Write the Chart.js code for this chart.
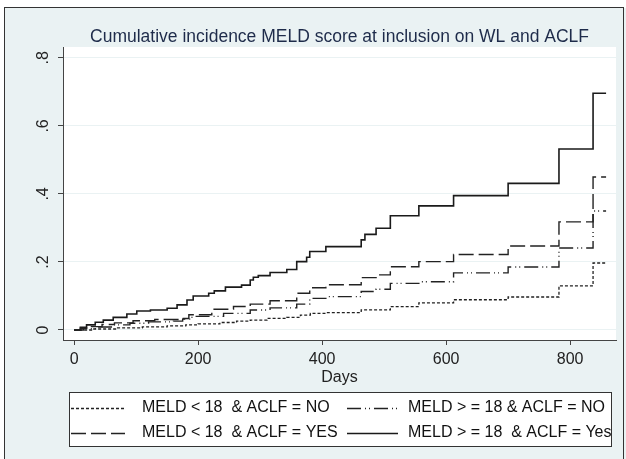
<!DOCTYPE html>
<html>
<head>
<meta charset="utf-8">
<script src="https://cdn.jsdelivr.net/npm/chart.js@4.4.1/dist/chart.umd.min.js"></script>
<style>
  html, body { margin: 0; padding: 0; background: #fff; }
  #wrap { width: 626px; height: 459px; }
</style>
</head>
<body>
<div id="wrap"><canvas id="chart" width="626" height="459"></canvas></div>
<script>
// values (step times in days, cumulative incidence after each step)
const lt18NoDays = [0, 30, 70, 110, 150, 180, 200, 235, 262, 284, 311, 343, 365, 381, 407, 463, 510, 556, 612, 700, 782, 837, 858];
const lt18NoVals = [0, .003, .006, .009, .012, .015, .018, .022, .026, .029, .034, .037, .044, .049, .051, .059, .069, .080, .089, .097, .130, .197, .197];

const lt18YesDays = [0, 10, 25, 45, 65, 95, 130, 170, 185, 222, 257, 284, 316, 359, 380, 406, 463, 487, 510, 556, 612, 700, 782, 837, 858];
const lt18YesVals = [0, .005, .010, .016, .021, .027, .031, .034, .045, .061, .069, .076, .086, .108, .124, .133, .154, .162, .186, .201, .222, .247, .318, .450, .450];

const ge18NoDays = [0, 15, 35, 60, 90, 120, 160, 175, 190, 241, 284, 316, 359, 380, 406, 463, 487, 510, 556, 612, 700, 782, 837, 858];
const ge18NoVals = [0, .004, .009, .015, .020, .024, .026, .032, .040, .049, .059, .065, .076, .093, .098, .113, .120, .137, .142, .168, .185, .241, .350, .350];

const ge18YesDays = [0, 10, 20, 34, 47, 63, 85, 101, 123, 150, 166, 182, 192, 217, 226, 244, 270, 284, 289, 297, 316, 343, 359, 375, 380, 406, 463, 469, 487, 510, 556, 612, 700, 782, 837, 858];
const ge18YesVals = [0, .008, .015, .023, .029, .037, .047, .056, .059, .064, .074, .088, .100, .108, .115, .126, .132, .147, .155, .160, .169, .178, .201, .214, .231, .245, .265, .281, .299, .336, .365, .395, .431, .532, .696, .696];

const seriesLabels = [
  'MELD < 18  & ACLF = NO',
  'MELD < 18  & ACLF = YES',
  'MELD > = 18 & ACLF = NO',
  'MELD > = 18  & ACLF = Yes'
];
const xTicks = [0, 200, 400, 600, 800];
const yTicks = [0, .2, .4, .6, .8];
const yTickLabels = ['0', '.2', '.4', '.6', '.8'];
const chartTitle = 'Cumulative incidence MELD score at inclusion on WL and ACLF';
const xTitle = 'Days';

const FONT = '"Liberation Sans", Arial, Helvetica, sans-serif';
const BG = '#eaf2f3';

const toPoints = (days, vals) => days.map((d, i) => ({ x: d, y: vals[i] }));

const lineStyles = [
  { dash: [3, 2], width: 1.3, color: '#222' },
  { dash: [15, 5], width: 1.4, color: '#222' },
  { dash: [14, 4, 1, 3, 1, 4], width: 1.4, color: '#222' },
  { dash: [], width: 1.6, color: '#1a1a1a' }
];

const seriesData = [
  toPoints(lt18NoDays, lt18NoVals),
  toPoints(lt18YesDays, lt18YesVals),
  toPoints(ge18NoDays, ge18NoVals),
  toPoints(ge18YesDays, ge18YesVals)
];

// legend placement: [dataset index, column, row]
const legendOrder = [[0, 0, 0], [2, 1, 0], [1, 0, 1], [3, 1, 1]];

// Stata-like frame, plot region, title, rotated y labels and boxed legend
const stataLook = {
  id: 'stataLook',
  beforeDraw(chart) {
    const { ctx, chartArea: a } = chart;
    ctx.save();
    ctx.fillStyle = '#fff';
    ctx.fillRect(0, 0, chart.width, chart.height);
    ctx.fillStyle = BG;
    ctx.fillRect(5, 8, chart.width - 5, chart.height - 8);
    ctx.strokeStyle = '#333';
    ctx.lineWidth = 1;
    ctx.strokeRect(4.5, 7.5, chart.width - 7, chart.height + 10);
    ctx.fillStyle = '#fff';
    ctx.fillRect(a.left, a.top, a.right - a.left, a.bottom - a.top);
    ctx.restore();
  },
  afterDraw(chart) {
    const { ctx, chartArea: a } = chart;
    const yScale = chart.scales.y;
    ctx.save();

    // title
    ctx.fillStyle = '#1e2b4a';
    ctx.font = '17.5px ' + FONT;
    ctx.textAlign = 'center';
    ctx.textBaseline = 'alphabetic';
    ctx.fillText(chartTitle, (a.left + a.right) / 2, 41.5);

    // rotated y tick labels
    ctx.fillStyle = '#222';
    ctx.font = '16px ' + FONT;
    yTicks.forEach((v, i) => {
      ctx.save();
      ctx.translate(43.5, yScale.getPixelForValue(v));
      ctx.rotate(-Math.PI / 2);
      ctx.textAlign = 'center';
      ctx.textBaseline = 'middle';
      ctx.fillText(yTickLabels[i], 0, 0);
      ctx.restore();
    });

    // x axis title
    ctx.textAlign = 'center';
    ctx.textBaseline = 'middle';
    ctx.fillText(xTitle, (a.left + a.right) / 2, 378);

    // legend box
    const bx = 69.5, by = 392.5, bw = 542, bh = 54;
    ctx.fillStyle = '#fff';
    ctx.fillRect(bx, by, bw, bh);
    ctx.strokeStyle = '#333';
    ctx.lineWidth = 1;
    ctx.strokeRect(bx, by, bw, bh);
    ctx.beginPath();
    ctx.rect(bx, by, bw, bh);
    ctx.clip();
    const rowY = [408, 433];
    const colX = [[71, 125, 142], [347, 398, 408]];
    legendOrder.forEach(([di, col, row]) => {
      const ds = chart.data.datasets[di];
      const [x1, x2, tx] = colX[col];
      ctx.strokeStyle = ds.borderColor;
      ctx.lineWidth = ds.borderWidth;
      ctx.setLineDash(ds.borderDash);
      ctx.beginPath();
      ctx.moveTo(x1, rowY[row] + 0.5);
      ctx.lineTo(x2, rowY[row] + 0.5);
      ctx.stroke();
      ctx.setLineDash([]);
      ctx.fillStyle = '#111';
      ctx.textAlign = 'left';
      ctx.fillText(ds.label, tx, rowY[row]);
    });
    ctx.restore();
  }
};

new Chart(document.getElementById('chart'), {
  type: 'line',
  data: {
    datasets: seriesData.map((pts, i) => ({
      label: seriesLabels[i],
      data: pts,
      stepped: true,
      borderColor: lineStyles[i].color,
      borderWidth: lineStyles[i].width,
      borderDash: lineStyles[i].dash,
      pointRadius: 0,
      fill: false
    }))
  },
  options: {
    responsive: false,
    devicePixelRatio: 1,
    animation: false,
    layout: { padding: { left: 0, top: 47, right: 10, bottom: 0 } },
    plugins: {
      legend: { display: false },
      title: { display: false },
      tooltip: { enabled: false }
    },
    scales: {
      x: {
        type: 'linear',
        min: -18,
        max: 874,
        afterBuildTicks: (sc) => { sc.ticks = xTicks.map(v => ({ value: v })); },
        afterFit: (sc) => { sc.height = 119; },
        grid: { drawOnChartArea: false, drawTicks: true, tickLength: 5, tickColor: '#444' },
        border: { display: true, color: '#444', width: 1 },
        ticks: { font: { family: FONT, size: 16 }, color: '#222', padding: 5, maxRotation: 0 }
      },
      y: {
        type: 'linear',
        min: -0.0294,
        max: 0.832,
        afterBuildTicks: (sc) => { sc.ticks = yTicks.map(v => ({ value: v })); },
        afterFit: (sc) => { sc.width = 63; },
        grid: { color: BG, lineWidth: 1, drawTicks: true, tickLength: 5, tickColor: '#444' },
        border: { display: true, color: '#444', width: 1 },
        ticks: { display: false }
      }
    }
  },
  plugins: [stataLook]
});
</script>
</body>
</html>
